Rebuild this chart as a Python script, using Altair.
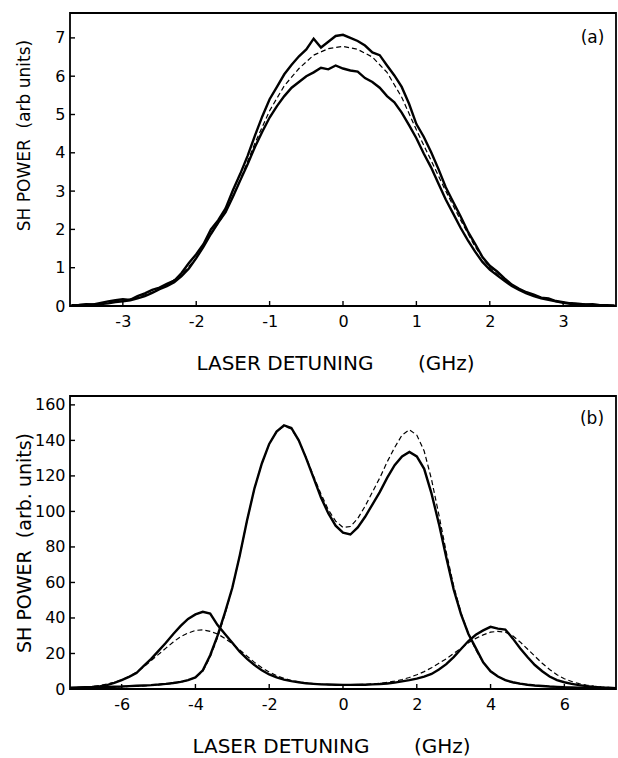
import altair as alt
import pandas as pd

# ---------------- Panel (a) data ----------------
a_x = [-3.7, -3.6, -3.5, -3.4, -3.3, -3.2, -3.1, -3.0, -2.9, -2.8, -2.7, -2.6, -2.5,
       -2.4, -2.3, -2.2, -2.1, -2.0, -1.9, -1.8, -1.7, -1.6, -1.5, -1.4, -1.3, -1.2,
       -1.1, -1.0, -0.9, -0.8, -0.7, -0.6, -0.5, -0.4, -0.3, -0.2, -0.1, 0.0, 0.1,
       0.2, 0.3, 0.4, 0.5, 0.6, 0.7, 0.8, 0.9, 1.0, 1.1, 1.2, 1.3, 1.4, 1.5, 1.6,
       1.7, 1.8, 1.9, 2.0, 2.1, 2.2, 2.3, 2.4, 2.5, 2.6, 2.7, 2.8, 2.9, 3.0, 3.1,
       3.2, 3.3, 3.4, 3.5, 3.6, 3.7]
a_upper = [0.02, 0.03, 0.05, 0.04, 0.08, 0.12, 0.15, 0.18, 0.16, 0.26, 0.33, 0.42, 0.48,
           0.58, 0.66, 0.86, 1.12, 1.35, 1.62, 2.00, 2.24, 2.55, 3.02, 3.45, 3.92, 4.45,
           4.95, 5.40, 5.72, 6.05, 6.30, 6.52, 6.70, 6.98, 6.75, 6.90, 7.05, 7.08, 7.00,
           6.92, 6.80, 6.62, 6.55, 6.28, 6.02, 5.72, 5.28, 4.75, 4.42, 4.02, 3.58, 3.10,
           2.72, 2.35, 1.95, 1.62, 1.28, 1.05, 0.90, 0.72, 0.56, 0.45, 0.36, 0.30, 0.22,
           0.20, 0.13, 0.10, 0.07, 0.06, 0.04, 0.05, 0.02, 0.02, 0.01]
a_lower = [0.01, 0.02, 0.03, 0.04, 0.05, 0.07, 0.10, 0.12, 0.15, 0.20, 0.26, 0.34, 0.44,
           0.52, 0.62, 0.78, 0.98, 1.25, 1.55, 1.88, 2.18, 2.45, 2.85, 3.28, 3.70, 4.15,
           4.55, 4.92, 5.22, 5.48, 5.70, 5.85, 6.00, 6.10, 6.22, 6.18, 6.28, 6.20, 6.15,
           6.12, 5.95, 5.85, 5.70, 5.48, 5.32, 5.05, 4.72, 4.38, 3.98, 3.62, 3.20, 2.78,
           2.42, 2.05, 1.72, 1.42, 1.15, 0.95, 0.80, 0.66, 0.52, 0.42, 0.33, 0.26, 0.20,
           0.16, 0.12, 0.08, 0.06, 0.05, 0.03, 0.03, 0.02, 0.01, 0.01]
a_fit_x = [-3.6, -3.4, -3.2, -3.0, -2.8, -2.6, -2.4, -2.2, -2.0, -1.8, -1.6, -1.4, -1.2,
           -1.0, -0.8, -0.6, -0.4, -0.2, 0.0, 0.2, 0.4, 0.6, 0.8, 1.0, 1.2, 1.4, 1.6,
           1.8, 2.0, 2.2, 2.4, 2.6, 2.8, 3.0, 3.2, 3.4, 3.6]
a_fit = [0.02, 0.04, 0.08, 0.14, 0.22, 0.36, 0.55, 0.82, 1.25, 1.88, 2.45, 3.30, 4.25,
         5.10, 5.75, 6.20, 6.55, 6.72, 6.78, 6.70, 6.50, 6.10, 5.45, 4.60, 3.80, 3.00,
         2.25, 1.55, 1.00, 0.68, 0.44, 0.28, 0.17, 0.10, 0.06, 0.03, 0.02]
a_xticks = [-3, -2, -1, 0, 1, 2, 3]
a_yticks = [0, 1, 2, 3, 4, 5, 6, 7]

# ---------------- Panel (b) data ----------------
b_x = [-7.4, -7.2, -7.0, -6.8, -6.6, -6.4, -6.2, -6.0, -5.8, -5.6, -5.4, -5.2, -5.0,
       -4.8, -4.6, -4.4, -4.2, -4.0, -3.8, -3.6, -3.4, -3.2, -3.0, -2.8, -2.6, -2.4,
       -2.2, -2.0, -1.8, -1.6, -1.4, -1.2, -1.0, -0.8, -0.6, -0.4, -0.2, 0.0, 0.2,
       0.4, 0.6, 0.8, 1.0, 1.2, 1.4, 1.6, 1.8, 2.0, 2.2, 2.4, 2.6, 2.8, 3.0, 3.2,
       3.4, 3.6, 3.8, 4.0, 4.2, 4.4, 4.6, 4.8, 5.0, 5.2, 5.4, 5.6, 5.8, 6.0, 6.2,
       6.4, 6.6, 6.8, 7.0, 7.2, 7.4]
b_main = [0.8, 0.9, 1.0, 1.0, 1.1, 1.2, 1.3, 1.4, 1.6, 1.8, 2.0, 2.2, 2.5,
          2.9, 3.4, 4.0, 5.0, 6.5, 10.5, 19.0, 30.0, 43.0, 57.0, 75.0, 95.0, 113.0,
          127.0, 138.0, 145.0, 148.5, 147.0, 140.0, 130.0, 119.0, 108.0, 99.0, 92.0, 88.0, 87.0,
          91.0, 97.0, 104.0, 111.0, 119.0, 126.0, 131.0, 133.5, 131.0, 124.0, 110.0, 93.0, 74.0, 56.0, 42.0,
          31.0, 23.0, 15.0, 10.0, 7.0, 5.0, 3.8, 3.0, 2.4, 2.0, 1.7, 1.4, 1.2, 1.0, 0.9,
          0.8, 0.7, 0.6, 0.5, 0.5, 0.4]
b_main_fit = [0.6, 0.7, 0.8, 0.9, 1.0, 1.1, 1.2, 1.3, 1.4, 1.6, 1.8, 2.0, 2.3,
              2.7, 3.2, 3.9, 4.9, 6.5, 10.0, 18.0, 29.0, 42.0, 57.0, 75.0, 95.0, 113.0,
              127.0, 138.0, 145.0, 148.0, 146.5, 140.0, 130.5, 120.0, 110.0, 101.0, 94.5, 91.0, 91.5,
              96.0, 103.0, 111.0, 119.0, 128.0, 136.0, 143.0, 146.0, 143.0, 134.0, 118.0, 98.0, 77.0, 58.0, 43.0,
              31.0, 22.0, 15.0, 10.0, 7.0, 5.0, 3.7, 2.9, 2.3, 1.9, 1.6, 1.3, 1.1, 0.9, 0.8,
              0.7, 0.6, 0.5, 0.5, 0.4, 0.4]
b_side = [0.5, 0.6, 0.8, 1.1, 1.5, 2.2, 3.4, 5.0, 6.8, 9.0, 13.0, 17.0, 21.5,
          26.0, 31.0, 35.5, 39.5, 42.0, 43.5, 42.5, 36.0, 31.0, 26.0, 21.0, 17.0, 13.5,
          10.5, 8.2, 6.5, 5.3, 4.4, 3.8, 3.2, 2.9, 2.6, 2.5, 2.4, 2.3, 2.3,
          2.4, 2.4, 2.6, 2.8, 3.1, 3.6, 4.3, 5.0, 5.8, 7.0, 8.5, 11.0, 14.0, 18.0, 22.5,
          27.0, 30.5, 33.0, 35.0, 34.0, 33.5, 28.5, 23.0, 18.0, 13.5, 10.0, 7.0, 5.0, 3.8, 2.9,
          2.2, 1.6, 1.2, 0.9, 0.7, 0.5]
b_side_fit = [0.5, 0.7, 1.0, 1.4, 2.0, 2.8, 3.8, 5.2, 7.0, 9.5, 12.5, 16.0, 19.5,
              23.0, 26.5, 29.5, 31.5, 33.0, 33.3, 32.5, 31.0, 28.5, 25.5, 22.0, 18.5, 15.0,
              12.0, 9.5, 7.5, 6.0, 4.8, 4.0, 3.4, 3.0, 2.7, 2.5, 2.4, 2.4, 2.4,
              2.5, 2.6, 2.9, 3.2, 3.7, 4.4, 5.3, 6.5, 8.0, 9.8, 12.0, 14.5, 17.0, 20.0, 23.0,
              26.0, 28.5, 30.5, 32.0, 32.5, 32.0, 30.0, 26.5, 22.5, 18.5, 14.5, 11.0, 8.0, 5.8, 4.2,
              3.0, 2.2, 1.6, 1.2, 0.9, 0.7]
b_xticks = [-6, -4, -2, 0, 2, 4, 6]
b_yticks = [0, 20, 40, 60, 80, 100, 120, 140, 160]

FONT = "DejaVu Sans"
NB = "\u00a0"
X_TITLE = "LASER DETUNING" + NB * 6 + " (GHz)"
W, H = 546, 293
LABEL_EXPR = "replace(datum.label, '\u2212', '-')"


def panel(solid_df, dash_df, xdom, ydom, xticks, yticks, ytitle, ytitle_size,
          ytitle_pad, ytitle_y, xtitle_x, tag, tag_x, tag_y):
    xs = alt.Scale(domain=xdom, nice=False, zero=False)
    ys = alt.Scale(domain=ydom, nice=False, zero=False)
    xaxis = alt.Axis(values=xticks, labelExpr=LABEL_EXPR, title=X_TITLE,
                     labelPadding=7, titlePadding=24, titleFontSize=20,
                     titleX=xtitle_x)
    ykw = dict(values=yticks, title=ytitle, labelPadding=5,
               titlePadding=ytitle_pad, titleFontSize=ytitle_size)
    if ytitle_y is not None:
        ykw["titleY"] = ytitle_y
    yaxis = alt.Axis(**ykw)

    def X(f):
        return alt.X(f, scale=xs, axis=xaxis)

    def Y(f):
        return alt.Y(f, scale=ys, axis=yaxis)

    solid = alt.Chart(solid_df).mark_line(color="black", strokeWidth=2.4, clip=True).encode(
        x=X("x:Q"), y=Y("y:Q"), detail="curve:N",
    )
    dashed = alt.Chart(dash_df).mark_line(color="black", strokeWidth=1.2,
                                          strokeDash=[5, 3], clip=True).encode(
        x=X("x:Q"), y=Y("y:Q"), detail="curve:N",
    )
    yt = alt.Chart(pd.DataFrame({"y": yticks})).mark_rule(color="black", strokeWidth=1.4).encode(
        y=Y("y:Q"), x=alt.value(0), x2=alt.value(5),
    )
    xt = alt.Chart(pd.DataFrame({"x": xticks})).mark_rule(color="black", strokeWidth=1.4).encode(
        x=X("x:Q"), y=alt.value(H), y2=alt.value(H - 5),
    )
    label = alt.Chart(pd.DataFrame({"t": [tag]})).mark_text(
        font=FONT, fontSize=17, color="black").encode(
        x=alt.X(datum=tag_x, scale=xs, axis=xaxis),
        y=alt.Y(datum=tag_y, scale=ys, axis=yaxis),
        text="t:N")
    return alt.layer(solid, dashed, yt, xt, label).properties(width=W, height=H)


a_solid = pd.DataFrame({"x": a_x * 2, "y": a_upper + a_lower,
                        "curve": ["upper"] * len(a_x) + ["lower"] * len(a_x)})
a_dash = pd.DataFrame({"x": a_fit_x, "y": a_fit, "curve": ["fit"] * len(a_fit_x)})
b_solid = pd.DataFrame({"x": b_x * 2, "y": b_main + b_side,
                        "curve": ["main"] * len(b_x) + ["side"] * len(b_x)})
b_dash = pd.DataFrame({"x": b_x * 2, "y": b_main_fit + b_side_fit,
                       "curve": ["mainfit"] * len(b_x) + ["sidefit"] * len(b_x)})

pa = panel(a_solid, a_dash, [-3.72, 3.72], [0, 7.65], a_xticks, a_yticks,
           "SH POWER" + NB + " (arb units)", 17, 21, 122, 265, "(a)", 3.4, 7.0)
pb = panel(b_solid, b_dash, [-7.4, 7.4], [0, 165], b_xticks, b_yticks,
           "SH POWER" + NB + " (arb. units)", 19, 0, None, 261, "(b)", 6.75, 152)

chart = alt.vconcat(pa, pb, spacing=21).configure(
    padding={"left": 14, "top": 12, "right": 0, "bottom": 0},
).configure_view(
    stroke="black", strokeWidth=1.8
).configure_axis(
    labelFont=FONT, labelFontSize=16, labelColor="black",
    titleFont=FONT, titleFontWeight="normal", titleColor="black",
    grid=False, ticks=False, domain=False,
)

chart.save("out.html", embed_options={"renderer": "svg", "actions": False})
